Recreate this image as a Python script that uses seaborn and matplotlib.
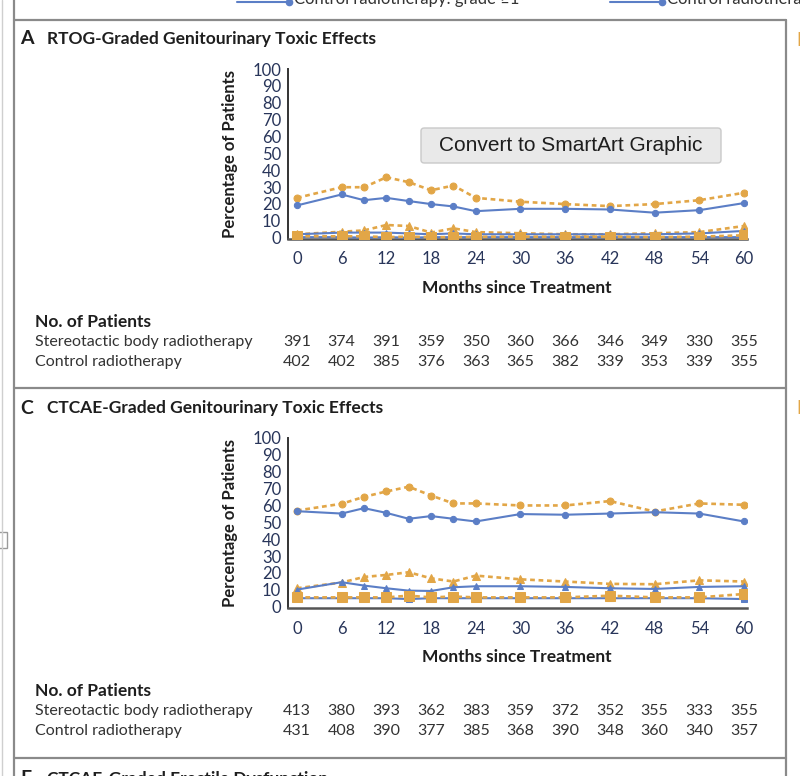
import matplotlib.pyplot as plt
import seaborn as sns
import pandas as pd
import numpy as np
from matplotlib.lines import Line2D
from matplotlib.patches import FancyBboxPatch
import matplotlib.transforms as mtransforms

# Datos
months = [0, 6, 9, 12, 15, 18, 21, 24, 30, 36, 42, 48, 54, 60]
tick_months = [0, 6, 12, 18, 24, 30, 36, 42, 48, 54, 60]

# Panel A: RTOG
sbrt_g1_A = [23.6, 29.9, 29.9, 35.8, 32.9, 28.1, 30.9, 23.6, 21.3, 19.9, 18.7, 19.9, 22.2, 26.6]
ctrl_g1_A = [19.1, 25.6, 22.2, 23.6, 21.7, 19.9, 18.5, 15.7, 17.1, 17.1, 16.7, 14.8, 16.3, 20.5]
sbrt_g2_A = [2.0, 3.5, 4.3, 7.5, 6.9, 3.0, 5.5, 3.3, 2.6, 2.0, 2.0, 2.6, 3.3, 6.9]
ctrl_g2_A = [2.0, 3.0, 3.0, 3.0, 2.5, 2.0, 2.5, 2.0, 2.0, 2.0, 2.0, 2.0, 2.5, 4.0]
sbrt_g3_A = [0.8, 0.8, 0.8, 0.3, 0.6, 0.3, 0.3, 0.5, 0.6, 0.5, 0.6, 0.3, 0.6, 1.4]
ctrl_g3_A = [0.3, 0.3, 0.0, 0.3, 0.0, 0.3, 0.3, 0.3, 0.3, 0.3, 0.3, 0.3, 0.3, 0.3]

# Panel C: CTCAE
sbrt_g1_C = [57.0, 61.0, 65.1, 68.3, 71.1, 65.9, 61.2, 61.2, 60.0, 60.0, 62.6, 56.4, 61.2, 60.4]
ctrl_g1_C = [56.6, 55.2, 58.4, 55.6, 52.1, 53.7, 52.1, 50.5, 54.9, 54.5, 55.2, 56.0, 55.2, 50.5]
sbrt_g2_C = [10.9, 14.3, 17.6, 18.8, 20.4, 16.8, 14.9, 18.4, 16.2, 14.9, 13.5, 13.3, 15.6, 14.9]
ctrl_g2_C = [10.1, 14.5, 12.5, 10.9, 9.5, 9.3, 11.5, 12.1, 12.1, 11.7, 10.9, 10.5, 11.7, 12.1]
sbrt_g3_C = [5.5, 5.5, 5.5, 5.5, 6.5, 5.5, 6.0, 5.5, 5.5, 5.5, 6.5, 5.5, 5.5, 7.5]
ctrl_g3_C = [5.0, 5.0, 5.0, 5.0, 4.5, 5.0, 5.0, 5.0, 5.0, 5.0, 5.0, 5.0, 5.0, 4.5]

# No. of patients
n_sbrt_A = [391, 374, 391, 359, 350, 360, 366, 346, 349, 330, 355]
n_ctrl_A = [402, 402, 385, 376, 363, 365, 382, 339, 353, 339, 355]
n_sbrt_C = [413, 380, 393, 362, 383, 359, 372, 352, 355, 333, 355]
n_ctrl_C = [431, 408, 390, 377, 385, 368, 390, 348, 360, 340, 357]

ORANGE = '#E2A647'
BLUE = '#5B7EC6'
TXT = '#1E1E1E'
TICK = '#28355A'
W, H = 800, 776

sns.set_style('white')
plt.rcParams['font.family'] = ['Lato', 'DejaVu Sans']


def fx(x):
    return x / W


def fy(y):
    return 1 - y / H


def panel(fig, top_px, letter, title, series, n_sbrt, n_ctrl):
    """Dibuja un panel: título, gráfico de líneas y tabla de pacientes."""
    ax = fig.add_axes([fx(288), fy(top_px + 170), fx(459), 170 / H])
    for vals, col, mk, ms, dotted in series:
        ls = (0, (1.8, 1.4)) if dotted else '-'
        lw = 1.9 if dotted else 1.5
        sns.lineplot(x=months, y=vals, ax=ax, color=col, marker=mk, markersize=ms,
                     markeredgecolor=col, linestyle=ls, linewidth=lw, zorder=3)
    ax.set_xlim(-1.2, 60.4)
    ax.set_ylim(-0.8, 100)
    ax.set_yticks(range(0, 101, 10))
    ax.set_xticks(tick_months)
    for s in ['top', 'right']:
        ax.spines[s].set_visible(False)
    ax.spines['left'].set_color('#333333')
    ax.spines['left'].set_linewidth(1.4)
    ax.spines['bottom'].set_color('#555555')
    ax.spines['bottom'].set_linewidth(1.8)
    ax.tick_params(axis='y', length=4, width=1.2, color='#333333', labelsize=12,
                   labelcolor=TICK, pad=1)
    ax.tick_params(axis='x', length=6, width=1.8, color='#555555', labelsize=12,
                   labelcolor=TICK, pad=3, direction='out')
    ax.set_ylabel('Percentage of Patients', fontsize=12, fontweight='bold', color=TXT)
    ax.yaxis.set_label_coords(-0.108, 0.5)
    ax.set_xlabel('')

    fig.text(fx(20), fy(top_px - 30), letter, fontsize=14, fontweight='bold',
             color=TXT, va='center')
    fig.text(fx(47), fy(top_px - 30), title, fontsize=12.5, fontweight='bold',
             color=TXT, va='center')
    fig.text(fx(517), fy(top_px + 219), 'Months since Treatment', fontsize=12.5,
             fontweight='bold', color=TXT, ha='center', va='center')

    # tabla de pacientes
    fig.text(fx(35), fy(top_px + 253), 'No. of Patients', fontsize=12.5,
             fontweight='bold', color=TXT, va='center')
    trans = mtransforms.blended_transform_factory(ax.transData, fig.transFigure)
    rows = [('Stereotactic body radiotherapy', n_sbrt, top_px + 273),
            ('Control radiotherapy', n_ctrl, top_px + 293)]
    for lab, nums, ypx in rows:
        fig.text(fx(35), fy(ypx), lab, fontsize=11.5, color='#333333', va='center')
        for m, n in zip(tick_months, nums):
            ax.text(m, fy(ypx), str(n), transform=trans, fontsize=11.5,
                    color='#333333', ha='center', va='center', clip_on=False)
    return ax


fig = plt.figure(figsize=(8, 7.76), dpi=100)

series_A = [
    (sbrt_g1_A, ORANGE, 'o', 5, True), (ctrl_g1_A, BLUE, 'o', 4.5, False),
    (sbrt_g2_A, ORANGE, '^', 5.5, True), (ctrl_g2_A, BLUE, '^', 4.5, False),
    (ctrl_g3_A, BLUE, 's', 4.5, False), (sbrt_g3_A, ORANGE, 's', 6.5, True),
]
series_C = [
    (sbrt_g1_C, ORANGE, 'o', 5, True), (ctrl_g1_C, BLUE, 'o', 4.5, False),
    (sbrt_g2_C, ORANGE, '^', 5.5, True), (ctrl_g2_C, BLUE, '^', 4.5, False),
    (ctrl_g3_C, BLUE, 's', 4.5, False), (sbrt_g3_C, ORANGE, 's', 6.5, True),
]

panel(fig, 69, 'A', 'RTOG-Graded Genitourinary Toxic Effects', series_A, n_sbrt_A, n_ctrl_A)
panel(fig, 438, 'C', 'CTCAE-Graded Genitourinary Toxic Effects', series_C, n_sbrt_C, n_ctrl_C)

# marcos de los paneles
for ypx in [20, 388, 758]:
    fig.add_artist(Line2D([fx(14), fx(786)], [fy(ypx), fy(ypx)], color='#8A8A8A', lw=1.6))
fig.add_artist(Line2D([fx(14), fx(14)], [0, 1], color='#8A8A8A', lw=1.6))
fig.add_artist(Line2D([fx(786), fx(786)], [0, fy(20)], color='#8A8A8A', lw=1.6))
fig.add_artist(Line2D([fx(2), fx(2)], [0, 1], color='#CFCFCF', lw=1.0))
fig.add_artist(FancyBboxPatch((fx(-4), fy(548)), fx(11), 16 / H, boxstyle='square,pad=0',
                              transform=fig.transFigure, facecolor='white',
                              edgecolor='#9A9A9A', lw=1.0))

# letras de los paneles de la derecha y panel E (cortadas como en la captura)
fig.text(fx(796), fy(40), 'B', fontsize=14, fontweight='bold', color=ORANGE, va='center')
fig.text(fx(796), fy(408), 'D', fontsize=14, fontweight='bold', color=ORANGE, va='center')
fig.text(fx(20), fy(779), 'E', fontsize=14, fontweight='bold', color=TXT, va='center')
fig.text(fx(47), fy(779), 'CTCAE-Graded Erectile Dysfunction', fontsize=12.5,
         fontweight='bold', color=TXT, va='center')

# leyenda superior (cortada)
legend_items = [(237, 'Control radiotherapy: grade ≥1'), (610, 'Control radiotherapy: grade ≥2')]
for x0, lab in legend_items:
    fig.add_artist(Line2D([fx(x0), fx(x0 + 52)], [fy(2), fy(2)], color=BLUE, lw=1.5,
                          marker='o', markersize=4.5, markevery=[1]))
    fig.text(fx(x0 + 57), fy(-1), lab, fontsize=12, color='#333333', va='center')

# tooltip de PowerPoint
fig.add_artist(FancyBboxPatch((fx(421), fy(163)), fx(300), 35 / H,
                              boxstyle='round,pad=0,rounding_size=0.004',
                              transform=fig.transFigure, facecolor='#E9E9E9',
                              edgecolor='#C9C9C9', lw=1.0, zorder=10))
fig.text(fx(571), fy(145.5), 'Convert to SmartArt Graphic', fontsize=15,
         family=['Liberation Sans', 'DejaVu Sans'], color='#1E1E1E',
         ha='center', va='center', zorder=11)

plt.savefig('out.png', dpi=100)
